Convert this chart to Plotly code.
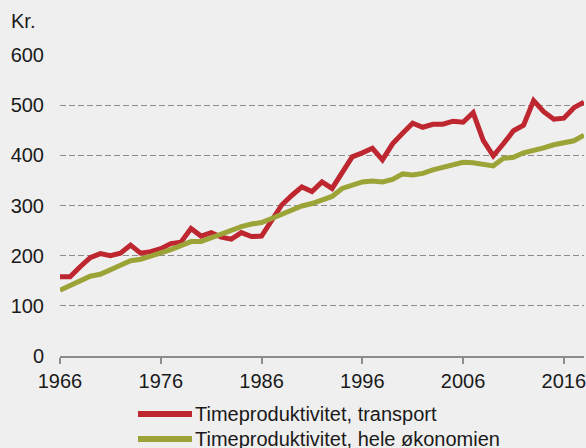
import plotly.graph_objects as go

years = list(range(1966, 2019))
transport = [158, 158, 178, 196, 204, 200, 205, 221, 205, 208, 214, 224, 227, 254,
             239, 246, 237, 233, 246, 238, 239, 271, 301, 320, 337, 328, 347, 334,
             367, 397, 405, 414, 391, 423, 444, 464, 456, 462, 462, 468, 466, 485,
             430, 399, 423, 449, 460, 509, 487, 472, 474, 495, 506]
economy = [131, 140, 150, 159, 163, 173, 181, 190, 193, 199, 205, 212, 220, 228,
           228, 236, 244, 251, 258, 263, 266, 274, 283, 291, 299, 304, 310, 318,
           334, 341, 347, 349, 347, 352, 363, 361, 364, 371, 376, 381, 386, 385,
           381, 379, 394, 396, 405, 409, 415, 421, 425, 429, 440]
names = ["Timeproduktivitet, transport", "Timeproduktivitet, hele økonomien"]
colors = ["#be2630", "#9ca337"]
x_ticks = [1966, 1976, 1986, 1996, 2006, 2016]
y_ticks = [0, 100, 200, 300, 400, 500, 600]

W, H = 586, 448
L, R, T, B = 60, 2, 54, 92
PW, PH = W - L - R, H - T - B

def px_x(x):
    return (x - L) / PW

def px_y(y):
    return (H - B - y) / PH

font = "Liberation Sans, Arial, sans-serif"
fig = go.Figure()
for vals, name, col in zip([transport, economy], names, colors):
    fig.add_trace(go.Scatter(x=years, y=vals, name=name, mode="lines",
                             line=dict(color=col, width=5), showlegend=False))

fig.update_layout(
    width=W, height=H,
    margin=dict(l=L, r=R, t=T, b=B),
    paper_bgcolor="#efefef", plot_bgcolor="#efefef",
    font=dict(family=font, size=20, color="#1a1a1a"),
    xaxis=dict(range=[1966, 2018], tickvals=x_ticks, showgrid=False,
               showline=True, linecolor="#8c8c8c", linewidth=2,
               ticks="outside", ticklen=6, tickwidth=2, tickcolor="#8c8c8c",
               zeroline=False, fixedrange=True, automargin=False,
               ticklabeloverflow="allow"),
    yaxis=dict(range=[0, 602], tickvals=y_ticks, showgrid=True,
               gridcolor="#8c8c8c", griddash="6px,3px", gridwidth=1,
               zeroline=False, showline=False, ticks="", ticklabelstandoff=15,
               fixedrange=True, automargin=False),
    showlegend=False,
)
fig.add_annotation(text="Kr.", xref="paper", yref="paper", x=px_x(9), y=px_y(21),
                   xanchor="left", yanchor="middle", showarrow=False,
                   font=dict(size=20))
# manual legend
for i, (name, col) in enumerate(zip(names, colors)):
    ypix = 414 + 25 * i
    fig.add_shape(type="line", xref="paper", yref="paper",
                  x0=px_x(138), x1=px_x(192), y0=px_y(ypix), y1=px_y(ypix),
                  line=dict(color=col, width=6))
    fig.add_annotation(text=name, xref="paper", yref="paper",
                       x=px_x(193), y=px_y(ypix), xanchor="left", yanchor="middle",
                       showarrow=False, font=dict(size=20))

fig.write_html("out.html", config={"displayModeBar": False},
               post_script="document.body.style.margin='0';document.body.style.overflow='hidden';")
